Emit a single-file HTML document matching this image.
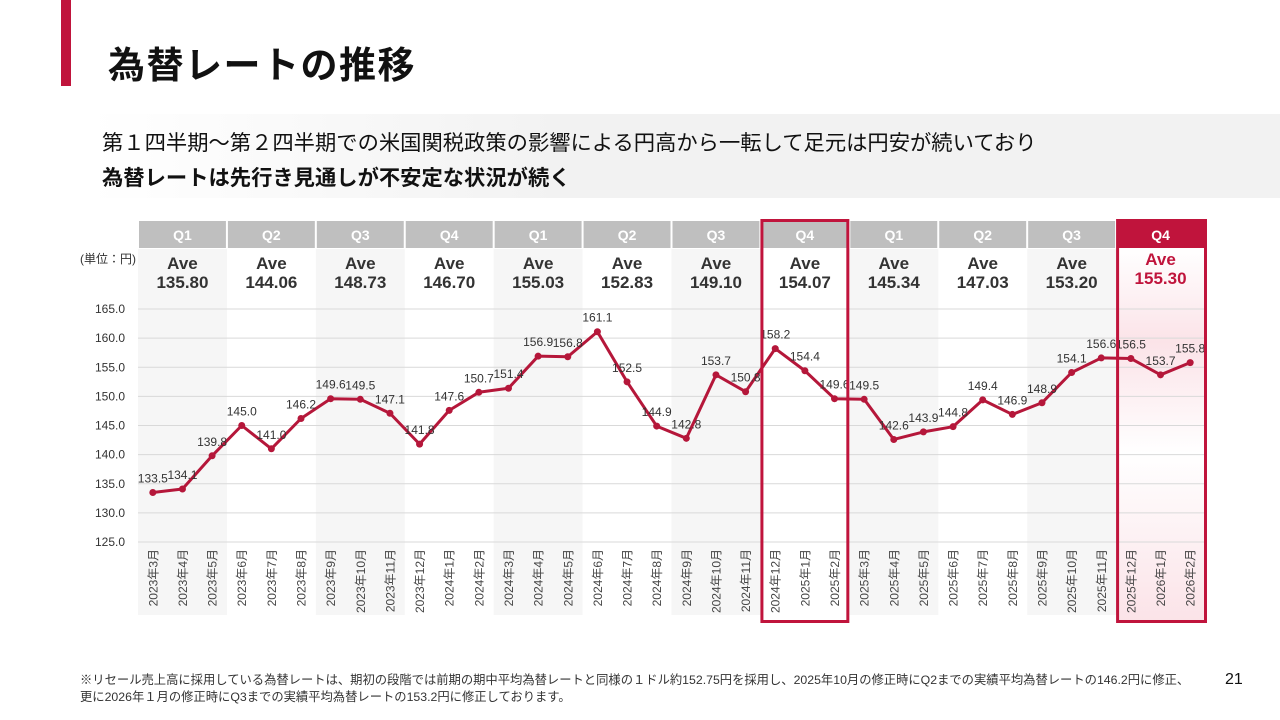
<!DOCTYPE html>
<html><head><meta charset="utf-8"><style>
body{margin:0;width:1280px;height:720px;background:#fff;font-family:"Liberation Sans","Noto Sans CJK JP",sans-serif;overflow:hidden;position:relative}
.abs{position:absolute}
</style></head><body>
<div class="abs" style="left:61px;top:0;width:10px;height:86px;background:#c0143c"></div>
<div class="abs" style="left:108px;top:35px;font-size:37px;font-weight:bold;color:#111;letter-spacing:1.5px">為替レートの推移</div>
<div class="abs" style="left:90px;top:114px;width:1190px;height:84px;background:linear-gradient(90deg,#fff 0%,#f2f2f2 40%,#f2f2f2 100%)"></div>
<div class="abs" style="left:102px;top:126px;font-size:21.3px;color:#111;white-space:nowrap">第１四半期～第２四半期での米国関税政策の影響による円高から一転して足元は円安が続いており</div>
<div class="abs" style="left:102px;top:161px;font-size:21.3px;font-weight:bold;color:#111;white-space:nowrap">為替レートは先行き見通しが不安定な状況が続く</div>
<div class="abs" style="left:80px;top:250px;font-size:12px;color:#333">(単位：円)</div>
<svg class="abs" style="left:0;top:0" width="1280" height="720">
<defs><linearGradient id="pk" x1="0" y1="0" x2="0" y2="1">
<stop offset="0" stop-color="#fff"/><stop offset="0.25" stop-color="#fbe3e8"/><stop offset="0.55" stop-color="#fff"/><stop offset="1" stop-color="#fbe3e8"/></linearGradient></defs>
<g id="bg"></g><g id="grid"></g><g id="hdr"></g><g id="line"></g><g id="xl"></g><g id="hl"></g>
</svg>
<div class="abs" style="left:80px;top:672px;font-size:12.3px;color:#333;line-height:17px;white-space:nowrap">※リセール売上高に採用している為替レートは、期初の段階では前期の期中平均為替レートと同様の１ドル約152.75円を採用し、2025年10月の修正時にQ2までの実績平均為替レートの146.2円に修正、<br>更に2026年１月の修正時にQ3までの実績平均為替レートの153.2円に修正しております。</div>
<div class="abs" style="left:1225px;top:671px;font-size:16px;color:#111">21</div>
<script>
const months=["2023年3月","2023年4月","2023年5月","2023年6月","2023年7月","2023年8月","2023年9月","2023年10月","2023年11月","2023年12月","2024年1月","2024年2月","2024年3月","2024年4月","2024年5月","2024年6月","2024年7月","2024年8月","2024年9月","2024年10月","2024年11月","2024年12月","2025年1月","2025年2月","2025年3月","2025年4月","2025年5月","2025年6月","2025年7月","2025年8月","2025年9月","2025年10月","2025年11月","2025年12月","2026年1月","2026年2月"];
const rates=[133.5,134.1,139.8,145.0,141.0,146.2,149.6,149.5,147.1,141.8,147.6,150.7,151.4,156.9,156.8,161.1,152.5,144.9,142.8,153.7,150.8,158.2,154.4,149.6,149.5,142.6,143.9,144.8,149.4,146.9,148.9,154.1,156.6,156.5,153.7,155.8];
const quarters=["Q1","Q2","Q3","Q4","Q1","Q2","Q3","Q4","Q1","Q2","Q3","Q4"];
const qAverages=["135.80","144.06","148.73","146.70","155.03","152.83","149.10","154.07","145.34","147.03","153.20","155.30"];
const yTicks=[125,130,135,140,145,150,155,160,165];
const NS="http://www.w3.org/2000/svg";
const X0=138,X1=1205,mW=(X1-X0)/months.length,qW=mW*3;
const y=v=>542-(v-125)*(542-309)/40;
const x=i=>X0+mW*(i+0.5);
function mk(p,t,a,txt){const e=document.createElementNS(NS,t);for(const k in a)e.setAttribute(k,a[k]);if(txt!==undefined)e.textContent=txt;document.getElementById(p).appendChild(e);return e;}
quarters.forEach((q,i)=>{
 const qx=X0+qW*i,last=i===quarters.length-1;
 if(last){const r=mk('bg','rect',{x:qx,y:249,width:qW,height:372,fill:'url(#pk)'});}
 else if(i%2===0){const r=mk('bg','rect',{x:qx,y:249,width:qW,height:366,fill:'#f6f6f6'});}
 const h=mk('hdr','rect',{x:qx+1,y:221,width:qW-2,height:27,fill:last?'#c0143c':'#bfbfbf'});
 
 const t=mk('hdr','text',{x:qx+qW/2,y:240,'text-anchor':'middle','font-size':14,'font-weight':'bold',fill:'#fff'},q);
 
 const col=last?'#c0143c':'#333';
 const a1=mk('hdr','text',{x:qx+qW/2,y:last?265:269,'text-anchor':'middle','font-size':17,'font-weight':'bold',fill:col},'Ave');
 
 const a2=mk('hdr','text',{x:qx+qW/2,y:last?284:288,'text-anchor':'middle','font-size':17,'font-weight':'bold',fill:col},qAverages[i]);
 
});
yTicks.forEach(v=>{
 const l=mk('grid','line',{x1:X0,x2:X1,y1:y(v),y2:y(v),stroke:'#d9d9d9','stroke-width':1});
 
 const t=mk('grid','text',{x:125,y:y(v)+4,'text-anchor':'end','font-size':12,fill:'#333'},v.toFixed(1));
 
});
const pl=mk('line','polyline',{points:rates.map((v,i)=>x(i)+','+y(v)).join(' '),fill:'none',stroke:'#b5173a','stroke-width':3,'stroke-linejoin':'round'});

rates.forEach((v,i)=>{
 const c=mk('line','circle',{cx:x(i),cy:y(v),r:3.5,fill:'#b5173a'});
 
 const t=mk('line','text',{x:x(i),y:y(v)-10,'text-anchor':'middle','font-size':12,fill:'#333'},v.toFixed(1));
 
});
months.forEach((m,i)=>{
 const t=mk('xl','text',{x:0,y:0,'text-anchor':'end','font-size':12,fill:'#444',transform:`translate(${x(i)+4.5},549) rotate(-90)`},m);
 
});
const b1=mk('hl','rect',{x:X0+qW*7+1.5,y:220.5,width:qW-3,height:401,fill:'none',stroke:'#c0143c','stroke-width':3});

const b2=mk('hl','rect',{x:X0+qW*11+1.5,y:220.5,width:qW-1,height:401,fill:'none',stroke:'#c0143c','stroke-width':3});

</script>
</body></html>
